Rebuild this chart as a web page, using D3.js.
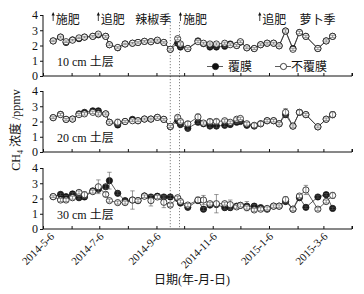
<!DOCTYPE html>
<html><head><meta charset="utf-8">
<script src="https://cdn.jsdelivr.net/npm/d3@7"></script>
<style>
body{margin:0;background:#fff}
svg{display:block}
text{font-family:"Liberation Serif","Times New Roman","Noto Sans CJK SC",serif;fill:#111}
</style>
</head><body><svg id="c" width="364" height="294"></svg>
<script>
// ---------- data ----------
const sampleDates = ["2014-05-17","2014-05-25","2014-05-31","2014-06-07","2014-06-14","2014-06-20","2014-06-29","2014-07-05","2014-07-13","2014-07-17","2014-07-26","2014-08-03","2014-08-11","2014-08-17","2014-08-24","2014-08-31","2014-09-07","2014-09-14","2014-09-21","2014-09-29","2014-10-02","2014-10-10","2014-10-21","2014-10-27","2014-11-03","2014-11-10","2014-11-19","2014-11-25","2014-12-02","2014-12-06","2014-12-13","2014-12-21","2014-12-28","2015-01-04","2015-01-11","2015-01-17","2015-01-24","2015-02-01","2015-02-08","2015-02-15","2015-02-28","2015-03-09","2015-03-16"];

const seriesNames = ["覆膜","不覆膜"];
const layerLabels = ["10 cm 土层","20 cm 土层","30 cm 土层"];

// 10 cm
const film10 = [2.3,2.55,2.2,2.37,2.45,2.55,2.6,2.7,2.6,2.05,1.85,2.1,2.15,2.2,2.27,2.25,2.33,2.2,1.75,2.15,1.9,1.8,2.3,2.12,1.9,1.9,1.95,2.1,2.0,2.22,1.85,1.8,2.05,2.15,2.15,1.98,2.95,1.8,2.85,2.6,1.8,2.3,2.6];
const bare10 = [2.3,2.55,2.25,2.35,2.5,2.55,2.6,2.75,2.6,2.05,1.87,2.1,2.15,2.2,2.27,2.25,2.35,2.2,1.75,2.45,2.1,1.8,2.25,2.15,2.1,2.1,2.15,2.05,2.0,2.25,1.85,1.8,2.05,2.15,2.15,1.98,2.95,1.75,2.85,2.6,1.8,2.3,2.6];
const film10Err = [0.05,0.06,0.05,0.05,0.05,0.05,0.05,0.06,0.06,0.06,0.05,0.05,0.05,0.05,0.05,0.05,0.06,0.05,0.06,0.08,0.08,0.06,0.07,0.06,0.07,0.07,0.07,0.06,0.06,0.06,0.06,0.06,0.06,0.06,0.06,0.06,0.08,0.07,0.08,0.07,0.07,0.07,0.07];
const bare10Err = [0.05,0.06,0.05,0.05,0.05,0.05,0.05,0.06,0.06,0.06,0.05,0.05,0.05,0.05,0.05,0.05,0.06,0.05,0.06,0.08,0.08,0.06,0.07,0.06,0.07,0.07,0.07,0.06,0.06,0.06,0.06,0.06,0.06,0.06,0.06,0.06,0.08,0.07,0.08,0.07,0.07,0.07,0.07];

// 20 cm
const film20 = [2.25,2.47,2.14,2.16,2.5,2.6,2.7,2.7,2.5,1.95,1.77,2.0,2.14,2.05,2.16,2.16,2.27,2.14,1.66,2.05,1.8,1.55,1.95,1.85,1.7,1.7,1.75,1.8,1.95,2.0,1.75,1.7,1.85,2.05,2.05,1.85,2.45,1.7,2.6,2.45,1.65,2.15,2.45];
const bare20 = [2.25,2.45,2.14,2.16,2.45,2.5,2.6,2.5,2.5,1.95,1.95,2.0,2.05,2.05,2.16,2.16,2.27,2.14,1.68,2.27,2.0,1.85,2.3,1.9,2.0,2.0,2.05,1.95,2.15,2.2,1.85,1.75,1.85,2.05,2.05,1.85,2.6,1.7,2.6,2.45,1.65,2.15,2.45];
const film20Err = [0.06,0.07,0.06,0.06,0.07,0.08,0.08,0.08,0.07,0.07,0.08,0.06,0.06,0.06,0.06,0.06,0.06,0.06,0.07,0.1,0.1,0.12,0.1,0.08,0.12,0.12,0.1,0.08,0.08,0.08,0.1,0.08,0.08,0.08,0.08,0.08,0.1,0.08,0.08,0.08,0.07,0.08,0.08];
const bare20Err = [0.06,0.07,0.06,0.06,0.07,0.08,0.08,0.08,0.07,0.07,0.2,0.06,0.06,0.06,0.06,0.06,0.06,0.06,0.07,0.1,0.1,0.15,0.2,0.08,0.15,0.15,0.1,0.08,0.1,0.08,0.1,0.15,0.15,0.08,0.08,0.08,0.25,0.08,0.15,0.08,0.07,0.08,0.2];

// 30 cm
const film30 = [2.12,2.27,2.12,2.3,2.05,2.1,2.5,2.6,2.77,3.17,2.34,1.86,1.9,1.86,2.17,2.1,2.15,2.1,2.1,2.0,1.7,1.42,1.86,1.3,1.57,1.6,1.4,1.4,1.5,1.55,1.5,1.5,1.4,1.3,1.5,1.5,1.8,1.3,2.05,1.42,2.1,2.25,1.35];
const bare30 = [2.12,1.9,1.9,2.05,2.4,2.25,2.45,2.77,2.27,1.86,1.73,1.73,1.9,1.86,2.15,1.86,2.1,1.75,1.57,2.05,1.8,1.57,1.9,1.9,1.66,1.66,1.66,1.6,1.45,1.55,1.4,1.25,1.3,1.35,1.5,1.5,1.93,1.3,2.16,2.56,1.3,1.8,2.2];
const film30Err = [0.06,0.08,0.08,0.08,0.08,0.08,0.1,0.15,0.15,0.55,0.1,0.1,0.1,0.08,0.08,0.1,0.1,0.1,0.1,0.1,0.1,0.1,0.1,0.1,0.1,0.1,0.1,0.1,0.1,0.1,0.3,0.1,0.1,0.1,0.08,0.08,0.1,0.1,0.1,0.08,0.08,0.08,0.08];
const bare30Err = [0.06,0.1,0.1,0.1,0.1,0.2,0.1,0.45,0.15,0.1,0.1,0.1,0.6,0.1,0.08,0.35,0.1,0.35,0.1,0.1,0.1,0.1,0.2,0.3,0.1,0.6,0.1,0.3,0.1,0.1,0.1,0.1,0.1,0.1,0.08,0.08,0.2,0.1,0.1,0.3,0.1,0.1,0.2];

const yTicks = [0,1,2,3,4];
const axisStart = "2014-05-06", axisEnd = "2015-04-06";
const labelledTicks = ["2014-05-06","2014-07-06","2014-09-06","2014-11-06","2015-01-06","2015-03-06"];
const eventDates = ["2014-05-17","2014-07-05","2014-10-02","2014-12-27"];
const eventTexts = ["施肥","追肥","施肥","追肥"];
const seasonDates = ["2014-08-14","2015-02-08"];
const seasonTexts = ["辣椒季","萝卜季"];
const guideDates = ["2014-09-21","2014-10-01"];
const yTitleMain = "CH", yTitleSub = "4", yTitleRest = " 浓度 /ppmv";
const xTitle = "日期(年-月-日)";

// ---------- drawing ----------
const parse = d3.timeParse("%Y-%m-%d");
const dates = sampleDates.map(parse);
const svg = d3.select("#c");
const X0 = 43, X1 = 352;
const x = d3.scaleTime().domain([parse(axisStart), parse(axisEnd)]).range([X0, X1]);
const monthTicks = d3.range(0, 12).map(i => new Date(2014, 4 + i, 6));
const fmt = d => `${d.getFullYear()}-${d.getMonth() + 1}-${d.getDate()}`;

const panels = [
  {label: layerLabels[0], film: film10, bare: bare10, fe: film10Err, be: bare10Err, top: 15},
  {label: layerLabels[1], film: film20, bare: bare20, fe: film20Err, be: bare20Err, top: 91},
  {label: layerLabels[2], film: film30, bare: bare30, fe: film30Err, be: bare30Err, top: 168}
];
const PH = 61;

// guide dotted lines
guideDates.map(parse).forEach(d => {
  svg.append("line").attr("x1", x(d)).attr("x2", x(d)).attr("y1", 22).attr("y2", 229)
    .attr("stroke", "#666").attr("stroke-width", 0.8).attr("stroke-dasharray", "1.2,1.8");
});

panels.forEach((p, pi) => {
  const y = d3.scaleLinear().domain([0, 4]).range([p.top + PH, p.top]);
  const g = svg.append("g");
  // y axis
  const ya = d3.axisLeft(y).tickValues(yTicks).tickSize(3).tickFormat(d3.format("d"));
  const yg = g.append("g").attr("transform", `translate(${X0},0)`).call(ya);
  yg.select(".domain").attr("d", `M0,${y(4)}V${y(0)}`).attr("stroke", "#111").attr("stroke-width", 1);
  yg.selectAll(".tick line").attr("stroke", "#111");
  yg.selectAll(".tick text").attr("font-size", 12).attr("x", -5).style("font-family", "Liberation Serif");
  // x axis
  const xa = d3.axisBottom(x).tickValues(monthTicks).tickSize(-3).tickFormat("");
  const xg = g.append("g").attr("transform", `translate(0,${y(0)})`).call(xa);
  xg.select(".domain").attr("d", `M${X0},0H${X1}`).attr("stroke", "#111").attr("stroke-width", 1);
  xg.selectAll(".tick line").attr("stroke", "#111");
  g.append("line").attr("x1", X1).attr("x2", X1).attr("y1", y(0)).attr("y2", y(0) - 3).attr("stroke", "#111");

  if (pi === 2) {
    labelledTicks.map(parse).forEach((d, i) => {
      svg.append("text").attr("transform", `translate(${x(d) + 5 + (i === 0 ? 7 : 0)},${y(0) + 8}) rotate(-45)`)
        .attr("text-anchor", "end").attr("font-size", 11).text(fmt(d));
    });
  }

  // layer label
  g.append("text").attr("x", 57).attr("y", y(0) - 10).attr("font-size", 12).text(p.label);

  const line = d3.line().x((d, i) => x(dates[i])).y(d => y(d));
  const series = [
    {vals: p.film, err: p.fe, fill: "#1a1a1a"},
    {vals: p.bare, err: p.be, fill: "#fff"}
  ];
  series.forEach(s => {
    g.append("path").datum(s.vals).attr("d", line).attr("fill", "none").attr("stroke", "#333").attr("stroke-width", 0.8);
  });
  series.forEach(s => {
    g.append("g").selectAll("circle").data(s.vals).join("circle")
      .attr("cx", (d, i) => x(dates[i])).attr("cy", d => y(d)).attr("r", 3.1)
      .attr("fill", s.fill).attr("stroke", "#111").attr("stroke-width", 0.8);
    const eg = g.append("g").attr("stroke", "#555").attr("stroke-width", 0.6);
    s.vals.forEach((v, i) => {
      const cx = x(dates[i]), e = s.err[i];
      eg.append("line").attr("x1", cx).attr("x2", cx).attr("y1", y(v - e)).attr("y2", y(v + e));
      eg.append("line").attr("x1", cx - 2.2).attr("x2", cx + 2.2).attr("y1", y(v + e)).attr("y2", y(v + e));
      eg.append("line").attr("x1", cx - 2.2).attr("x2", cx + 2.2).attr("y1", y(v - e)).attr("y2", y(v - e));
    });
  });

  if (pi === 0) {
    // legend
    const ly = 66.5;
    const items = [{x0: 207, fill: "#111", tx: 228}, {x0: 275, fill: "#fff", tx: 291}];
    items.forEach((it, k) => {
      g.append("line").attr("x1", it.x0).attr("x2", it.x0 + 16).attr("y1", ly).attr("y2", ly).attr("stroke", "#333").attr("stroke-width", 0.8);
      g.append("circle").attr("cx", it.x0 + 8.5).attr("cy", ly).attr("r", 3.1).attr("fill", it.fill).attr("stroke", "#111").attr("stroke-width", 0.8);
      g.append("text").attr("x", it.tx).attr("y", ly + 4).attr("font-size", 12).text(seriesNames[k]);
    });
  }
});

// annotations
eventDates.map(parse).forEach((d, i) => {
  const ax = x(d);
  svg.append("line").attr("x1", ax).attr("x2", ax).attr("y1", 21).attr("y2", 14.5).attr("stroke", "#111").attr("stroke-width", 0.8);
  svg.append("path").attr("d", `M${ax - 1.6},${15.5}L${ax},${12}L${ax + 1.6},${15.5}Z`).attr("fill", "#111");
  svg.append("text").attr("x", ax + 2.5).attr("y", 23.5).attr("font-size", 12).text(eventTexts[i]);
});
seasonDates.map(parse).forEach((d, i) => {
  svg.append("text").attr("x", x(d)).attr("y", 23.5).attr("font-size", 12).text(seasonTexts[i]);
});

// axis titles
const yt = svg.append("text").attr("transform", "translate(20,130) rotate(-90)").attr("text-anchor", "middle").attr("font-size", 12);
yt.append("tspan").text(yTitleMain);
yt.append("tspan").attr("font-size", 8).attr("dy", 3).text(yTitleSub);
yt.append("tspan").attr("dy", -3).text(yTitleRest);

svg.append("text").attr("x", 192).attr("y", 284).attr("text-anchor", "middle").attr("font-size", 12).text(xTitle);
</script>
</body></html>
